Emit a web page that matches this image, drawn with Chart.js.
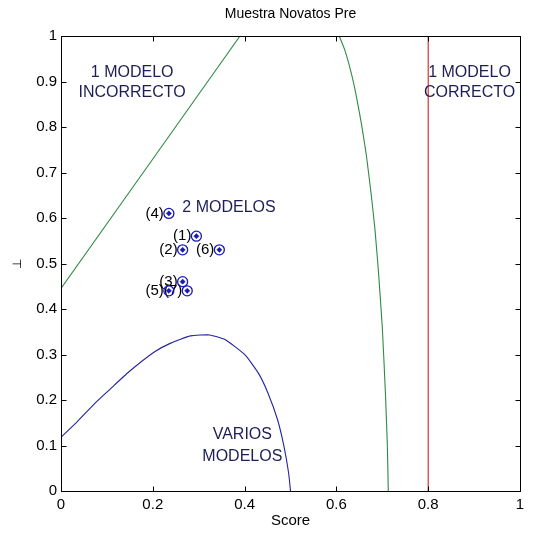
<!DOCTYPE html>
<html><head><meta charset="utf-8">
<script src="https://cdn.jsdelivr.net/npm/chart.js@4"></script>
<style>html,body{margin:0;padding:0;background:#fff}</style>
</head><body>
<canvas id="c" width="540" height="537"></canvas>
<script>
const titleText = 'Muestra Novatos Pre';
const xAxisTitle = 'Score';
const yAxisTitle = '⊥';
const xTickValues = [0, 0.2, 0.4, 0.6, 0.8, 1];
const yTickValues = [0, 0.1, 0.2, 0.3, 0.4, 0.5, 0.6, 0.7, 0.8, 0.9, 1];

const pointLabels = ['(1)', '(2)', '(3)', '(4)', '(5)', '(6)', '(7)'];
const pointX = [0.295, 0.265, 0.265, 0.235, 0.235, 0.345, 0.275];
const pointY = [0.56, 0.53, 0.46, 0.61, 0.44, 0.53, 0.44];

const leftBoundX = [0, 0.39];
const leftBoundY = [0.445, 1];
const rightBoundX = [0.606, 0.618, 0.632, 0.643, 0.654, 0.665, 0.676, 0.684, 0.691, 0.700, 0.707, 0.711, 0.713];
const rightBoundY = [1, 0.97, 0.92, 0.87, 0.81, 0.74, 0.65, 0.575, 0.49, 0.36, 0.21, 0.1, 0];
const lowerBoundX = [0, 0.035, 0.077, 0.106, 0.148, 0.204, 0.239, 0.282, 0.324, 0.359, 0.401, 0.43, 0.451, 0.472, 0.486, 0.496, 0.5];
const lowerBoundY = [0.118, 0.152, 0.196, 0.223, 0.262, 0.306, 0.325, 0.341, 0.343, 0.332, 0.299, 0.259, 0.215, 0.156, 0.097, 0.039, 0];
const correctX = [0.8, 0.8];
const correctY = [0, 1];

const regionLabels = ['1 MODELO', 'INCORRECTO', '1 MODELO', 'CORRECTO', '2 MODELOS', 'VARIOS', 'MODELOS'];
const regionX = [0.155, 0.155, 0.89, 0.89, 0.366, 0.395, 0.395];
const regionY = [0.92, 0.875, 0.92, 0.875, 0.622, 0.123, 0.075];

const zip = (xs, ys) => xs.map((x, i) => ({x, y: ys[i]}));
const FONT = '"Liberation Sans", Arial, sans-serif';
Chart.defaults.font.family = FONT;
Chart.defaults.color = '#000';

const GREEN = '#2f8a45';
const BLUE = '#2323a0';
const RED = '#d42020';
const MARK = '#1818b8';

const lineDs = (xs, ys, color) => ({
  data: zip(xs, ys), showLine: true, borderColor: color, borderWidth: 1.1,
  pointRadius: 0, fill: false, tension: 0.15
});

const frame = {
  id: 'frame',
  beforeDatasetsDraw(chart) {
    const ctx = chart.ctx, xs = chart.scales.x, ys = chart.scales.y;
    ctx.save();
    ctx.font = '15px ' + FONT;
    ctx.fillStyle = '#000';
    ctx.textAlign = 'right';
    ctx.textBaseline = 'middle';
    pointLabels.forEach((t, i) => {
      ctx.fillText(t, xs.getPixelForValue(pointX[i]) - 5, ys.getPixelForValue(pointY[i]));
    });
    ctx.restore();
  },
  afterDraw(chart) {
    const ctx = chart.ctx, a = chart.chartArea, xs = chart.scales.x, ys = chart.scales.y;
    ctx.save();
    ctx.strokeStyle = '#000';
    ctx.lineWidth = 1;
    const L = Math.round(a.left) + 0.5, R = Math.round(a.right) + 0.5;
    const T = Math.round(a.top) + 0.5, B = Math.round(a.bottom) + 0.5;
    ctx.strokeRect(L, T, R - L, B - T);
    ctx.beginPath();
    xTickValues.forEach(v => {
      const px = Math.round(xs.getPixelForValue(v)) + 0.5;
      ctx.moveTo(px, B); ctx.lineTo(px, B - 5);
      ctx.moveTo(px, T); ctx.lineTo(px, T + 5);
    });
    yTickValues.forEach(v => {
      const py = Math.round(ys.getPixelForValue(v)) + 0.5;
      ctx.moveTo(L, py); ctx.lineTo(L + 5, py);
      ctx.moveTo(R, py); ctx.lineTo(R - 5, py);
    });
    ctx.stroke();
    ctx.font = '16px ' + FONT;
    ctx.fillStyle = '#1e1e55';
    ctx.textAlign = 'center';
    ctx.textBaseline = 'middle';
    regionLabels.forEach((t, i) => {
      ctx.fillText(t, xs.getPixelForValue(regionX[i]), ys.getPixelForValue(regionY[i]));
    });
    ctx.font = '14px ' + FONT;
    ctx.fillStyle = '#000';
    ctx.fillText(titleText, (a.left + a.right) / 2, 14);
    ctx.restore();
  }
};

new Chart(document.getElementById('c'), {
  type: 'scatter',
  data: {
    datasets: [
      lineDs(leftBoundX, leftBoundY, GREEN),
      lineDs(rightBoundX, rightBoundY, GREEN),
      lineDs(lowerBoundX, lowerBoundY, BLUE),
      lineDs(correctX, correctY, RED),
      { data: zip(pointX, pointY), pointStyle: 'circle', pointRadius: 5, borderColor: MARK,
        borderWidth: 1.3, backgroundColor: 'rgba(255,255,255,0)', showLine: false },
      { data: zip(pointX, pointY), pointStyle: 'rectRot', pointRadius: 2.6, borderColor: MARK,
        borderWidth: 0.5, backgroundColor: MARK, showLine: false }
    ]
  },
  options: {
    responsive: false,
    animation: false,
    devicePixelRatio: 1,
    layout: { padding: { left: 0, right: 20, top: 36, bottom: 0 } },
    plugins: { legend: { display: false }, tooltip: { enabled: false }, title: { display: false } },
    scales: {
      x: {
        type: 'linear', min: 0, max: 1,
        afterBuildTicks: s => { s.ticks = xTickValues.map(v => ({ value: v })); },
        afterFit: s => { s.height = 46; },
        grid: { display: false, drawTicks: false },
        border: { display: false },
        ticks: { font: { size: 15 }, color: '#000', padding: 5, maxRotation: 0, autoSkip: false,
                 callback: v => String(v) },
        title: { display: true, text: xAxisTitle, font: { size: 15 }, color: '#000', padding: { top: 0, bottom: 7 } }
      },
      y: {
        type: 'linear', min: 0, max: 1,
        afterBuildTicks: s => { s.ticks = yTickValues.map(v => ({ value: v })); },
        afterFit: s => { s.width = 61; },
        grid: { display: false, drawTicks: false },
        border: { display: false },
        ticks: { font: { size: 15 }, color: '#000', padding: 4, autoSkip: false,
                 callback: v => String(v) },
        title: { display: true, text: yAxisTitle, font: { size: 12 }, color: '#000', padding: { top: 10, bottom: 0 } }
      }
    }
  },
  plugins: [frame]
});
</script>
</body></html>
